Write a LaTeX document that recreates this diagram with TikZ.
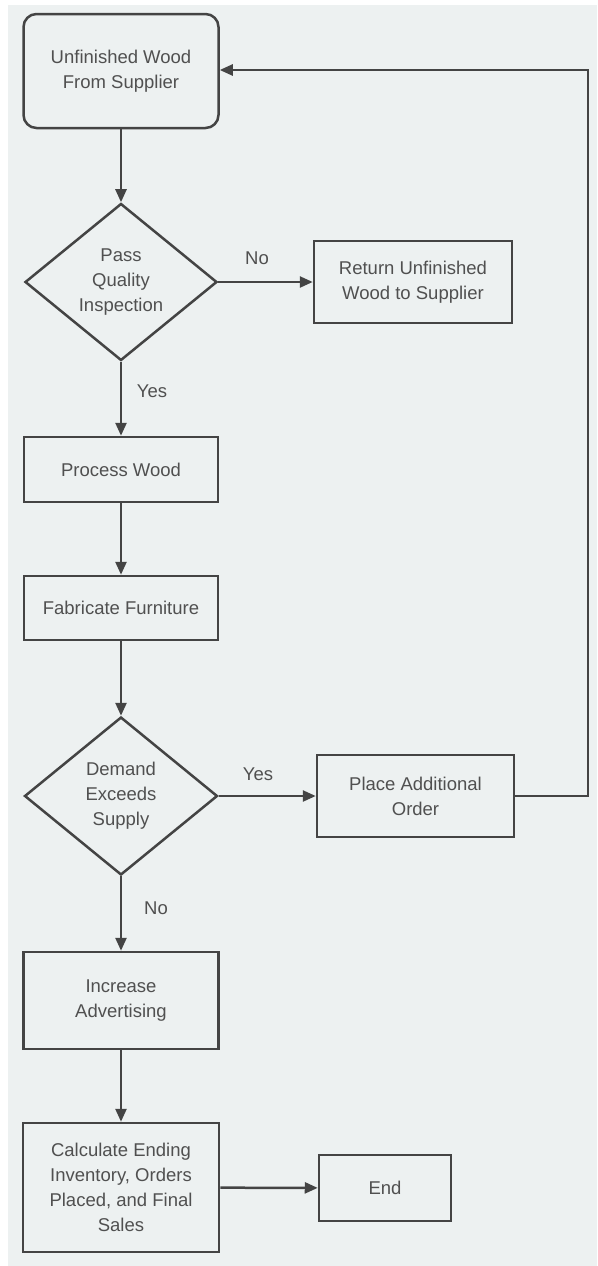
\documentclass[tikz,border=0pt]{standalone}
\usepackage{fontspec}
\setmainfont{Liberation Sans}
\usetikzlibrary{shapes.geometric,arrows.meta}
\definecolor{bg}{RGB}{237,241,241}
\definecolor{ln}{RGB}{68,68,68}
\definecolor{tx}{RGB}{80,80,80}
\begin{document}
\begin{tikzpicture}[x=1pt,y=-1pt,
  base/.style={draw=ln,line width=2.5pt,text=tx,font=\fontsize{18.5}{25}\selectfont,align=center,inner sep=0pt},
  procbox/.style={base,rectangle},
  startbox/.style={base,rectangle,rounded corners=13pt},
  decision/.style={base,diamond},
  conn/.style={draw=ln,line width=2.5pt,-{Triangle[length=13pt,width=11pt]}},
  lbl/.style={text=tx,font=\fontsize{18.5}{25}\selectfont,inner sep=0pt}]
\useasboundingbox (0,0) rectangle (597,1266);
\fill[white] (0,0) rectangle (597,1266);
\fill[bg] (8,5) rectangle (597,1266);

\node[startbox,minimum width=195pt,minimum height=114pt] (start) at (121,71) {Unfinished Wood\\From Supplier};
\node[decision,minimum width=192pt,minimum height=157pt] (d1) at (121,282) {Pass\\Quality\\Inspection};
\node[procbox,minimum width=198pt,minimum height=82pt] (ret) at (413,282) {Return Unfinished\\Wood to Supplier};
\node[procbox,minimum width=194pt,minimum height=65pt] (proc) at (121,469.5) {Process Wood};
\node[procbox,minimum width=194pt,minimum height=64pt] (fab) at (121,608) {Fabricate Furniture};
\node[decision,minimum width=193pt,minimum height=158pt] (d2) at (121,796) {Demand\\Exceeds\\Supply};
\node[procbox,minimum width=197pt,minimum height=82pt] (place) at (415.5,796) {Place Additional\\Order};
\node[procbox,minimum width=195pt,minimum height=97pt] (inc) at (121,1000.5) {Increase\\Advertising};
\node[procbox,minimum width=196pt,minimum height=129pt] (calc) at (121,1187.5) {Calculate Ending\\Inventory, Orders\\Placed, and Final\\Sales};
\node[procbox,minimum width=132pt,minimum height=66pt] (endn) at (385,1188) {End};

\coordinate (fbr) at (588,796);
\coordinate (fbt) at (588,70);

\draw[conn] (start) -- (d1);
\draw[conn] (d1) -- (ret);
\draw[conn] (d1) -- (proc);
\draw[conn] (proc) -- (fab);
\draw[conn] (fab) -- (d2);
\draw[conn] (d2) -- (place);
\draw[conn] (d2) -- (inc);
\draw[conn] (inc) -- (calc);
\draw[conn] (calc) -- (endn);
\draw[conn] (place.east) -- (fbr) -- (fbt) -- (start.east |- fbt);

\node[lbl] (no1) at (257,258) {No};
\node[lbl] (yes1) at (152,391) {Yes};
\node[lbl] (yes2) at (258,774) {Yes};
\node[lbl] (no2) at (156,908) {No};
\end{tikzpicture}
\end{document}
